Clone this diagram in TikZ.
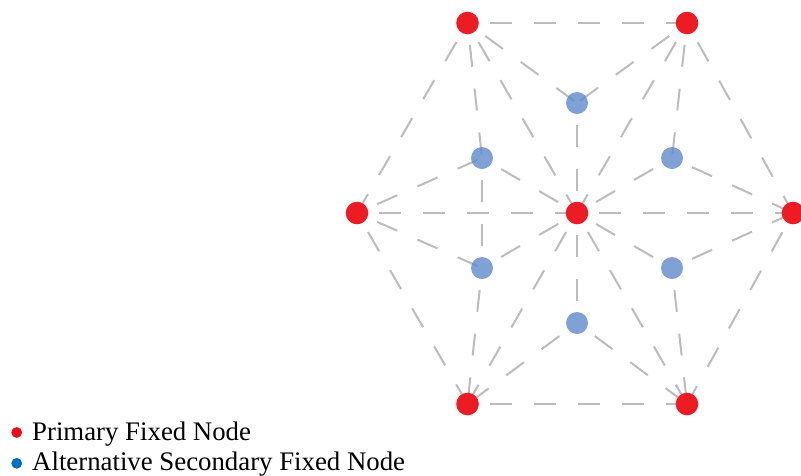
\documentclass[tikz,border=0pt]{standalone}
\usepackage{fontspec}
\setmainfont{Liberation Serif}
\definecolor{pred}{RGB}{237,28,36}
\definecolor{sblue}{RGB}{95,138,204}
\definecolor{edgegray}{RGB}{188,188,188}
\definecolor{legred}{RGB}{240,10,20}
\definecolor{legblue}{RGB}{0,112,192}
\tikzset{
  primary/.style={circle,fill=pred,inner sep=0pt,minimum size=22.6pt},
  secondary/.style={circle,fill=sblue,fill opacity=0.8,inner sep=0pt,minimum size=22pt},
  link/.style={draw=edgegray,line width=2pt,dash pattern=on 22pt off 22pt,dash phase=22pt},
  legdot/.style={circle,inner sep=0pt,minimum size=10.8pt},
  legtext/.style={anchor=base west,inner sep=0pt,font=\fontsize{26.8}{29.3}\selectfont}
}
\begin{document}
\begin{tikzpicture}[x=1pt,y=-1pt]
\useasboundingbox (0,0) rectangle (801,475);
% coordinates
\coordinate (P1) at (467.5,23);
\coordinate (P2) at (687,23);
\coordinate (P3) at (357,213);
\coordinate (P4) at (577,213);
\coordinate (P5) at (793,213);
\coordinate (P6) at (467.5,404);
\coordinate (P7) at (687,404);
\coordinate (B1) at (577,103);
\coordinate (B2) at (482,158);
\coordinate (B3) at (672,158);
\coordinate (B4) at (482,268);
\coordinate (B5) at (672,268);
\coordinate (B6) at (577,323);
% edges
\foreach \a/\b in {P1/P2,P1/P3,P1/B2,P1/B1,P1/P4,P2/B1,P2/P4,P2/B3,P2/P5,
  B2/B4,B4/P6,P3/B2,B2/P4,P4/B3,B3/P5,P4/B1,P3/P4,P4/P5,P3/P6,P3/B4,B4/P4,
  P4/P6,P4/B6,P4/P7,P4/B5,B5/P5,P5/P7,B5/P7,B6/P6,B6/P7,P6/P7}
  \draw[link] (\a) -- (\b);
% nodes
\foreach \n in {P1,P2,P3,P4,P5,P6,P7}
  \node[primary] (n\n) at (\n) {};
\foreach \n in {B1,B2,B3,B4,B5,B6}
  \node[secondary] (n\n) at (\n) {};
% legend
\node[legdot,fill=legred] (l1) at (16.7,432.5) {};
\node[legdot,fill=legblue] (l2) at (16.7,463.3) {};
\node[legtext] (t1) at (32,440.7) {Primary Fixed Node};
\node[legtext] (t2) at (32,470) {Alternative Secondary Fixed Node};
\end{tikzpicture}
\end{document}
